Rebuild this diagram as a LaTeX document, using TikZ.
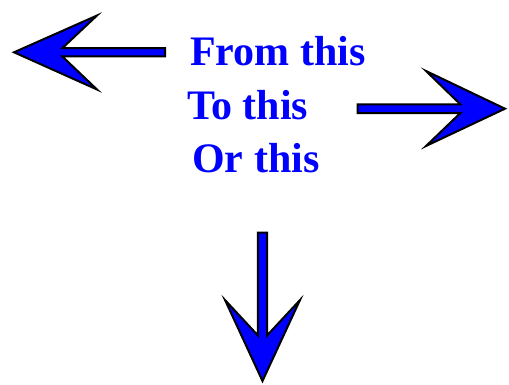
\documentclass[tikz,border=0pt]{standalone}
\usepackage{fontspec}
\setmainfont{Liberation Serif}
\definecolor{arrblue}{RGB}{0,0,255}
\begin{document}
\begin{tikzpicture}[x=1pt,y=-1pt,
  fatarrow/.style={draw=black,fill=arrblue,line width=2pt,line join=miter},
  label/.style={anchor=base west,inner sep=0pt,text=arrblue,font=\fontsize{42}{50}\selectfont\bfseries}]
\useasboundingbox (0,0) rectangle (509,385);
% left arrow
\draw[fatarrow] (14,52.3) -- (97,15.5) -- (62.4,48.1) -- (165,48.1) -- (165,56.5) -- (62.4,56.5) -- (97,89.5) -- cycle;
% right arrow
\draw[fatarrow] (505,108.7) -- (426,71) -- (460.3,104.3) -- (357.5,104.3) -- (357.5,113.1) -- (460.3,113.1) -- (426,146) -- cycle;
% down arrow
\draw[fatarrow] (262.5,381) -- (225,300) -- (257.9,335.4) -- (257.9,232.5) -- (267.1,232.5) -- (267.1,335.4) -- (300,300) -- cycle;
\node[label] (from) at (190,65.5) {From this};
\node[label] (to) at (187,120) {To this};
\node[label] (or) at (192,173) {Or this};
\end{tikzpicture}
\end{document}
